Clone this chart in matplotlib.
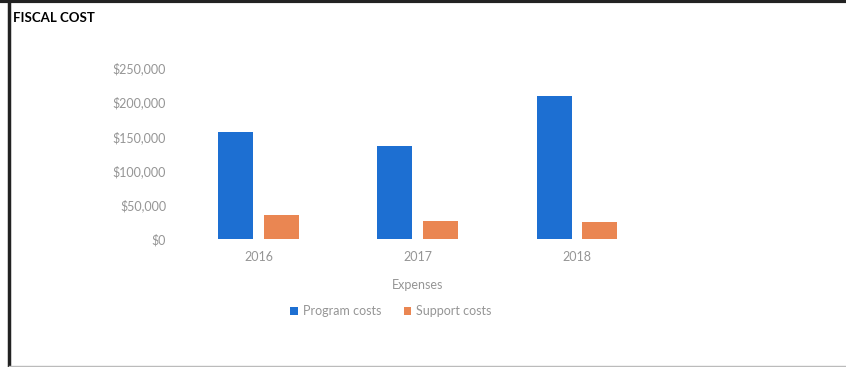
import matplotlib.pyplot as plt
import numpy as np
from matplotlib.lines import Line2D
from matplotlib.ticker import FuncFormatter

# Expenses by year
years = ['2016', '2017', '2018']
program_costs = [156000, 136000, 209000]
support_costs = [35000, 27000, 25000]

blue = '#1d6fd2'
orange = '#ea8652'
grey = '#959595'

plt.rcParams['font.family'] = ['Lato', 'DejaVu Sans']

fig = plt.figure(figsize=(8.46, 3.67), dpi=100)
ax = fig.add_axes([0.2113, 0.3488, 0.5649, 0.4659])

x = np.arange(len(years))
w = 0.22
ax.bar(x - 0.143, program_costs, w, color=blue, label='Program costs')
ax.bar(x + 0.143, support_costs, w, color=orange, label='Support costs')

ax.set_xlim(-0.5, 2.5)
ax.set_ylim(0, 250000)
ax.set_yticks(np.arange(0, 250001, 50000))
ax.yaxis.set_major_formatter(FuncFormatter(lambda v, p: '${:,.0f}'.format(v)))
ax.set_xticks(x)
ax.set_xticklabels(years)
ax.tick_params(length=0, labelsize=9, colors=grey)
ax.tick_params(axis='y', pad=9)
ax.tick_params(axis='x', pad=9)
for s in ax.spines.values():
    s.set_visible(False)

ax.set_xlabel('Expenses', fontsize=9, color=grey, labelpad=11)

leg = fig.legend(loc='center', bbox_to_anchor=(0.462, 0.152), ncol=2, frameon=False,
                 fontsize=9, handlelength=0.6, handleheight=0.6, handletextpad=0.4,
                 columnspacing=1.8)
for t in leg.get_texts():
    t.set_color(grey)

fig.text(0.015, 0.952, 'FISCAL COST', fontsize=9.5, fontweight='bold', color='black',
         va='center', ha='left')

# frame around the panel
fig.add_artist(Line2D([0, 1], [0.996, 0.996], color='#222222', lw=3, transform=fig.transFigure))
fig.add_artist(Line2D([0.0112, 0.0112], [0, 1], color='#222222', lw=2.5, transform=fig.transFigure))
fig.add_artist(Line2D([0.0112, 1], [0.004, 0.004], color='#bbbbbb', lw=1, transform=fig.transFigure))

fig.savefig('out.png', dpi=100)
